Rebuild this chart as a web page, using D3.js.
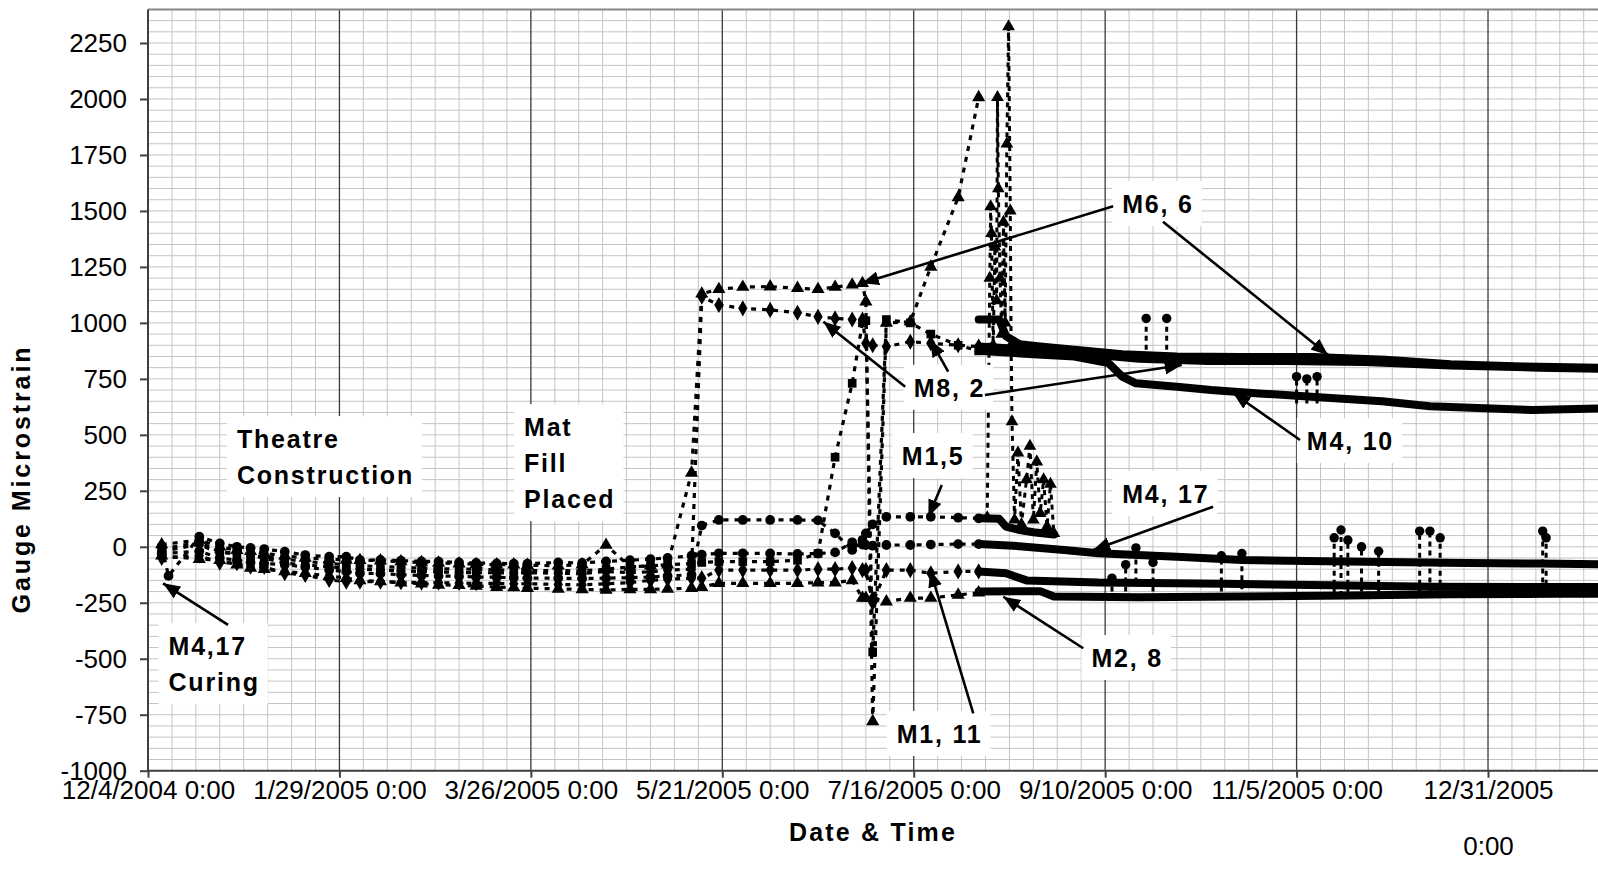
<!DOCTYPE html>
<html>
<head>
<meta charset="utf-8">
<script src="https://cdn.jsdelivr.net/npm/d3@7"></script>
<style>
  body { margin: 0; background: #fff; }
  svg { display: block; font-family: "Liberation Sans", Arial, sans-serif; }
  .axis .tick text { font-size: 26px; fill: #000; }
  .axis path, .axis line { stroke: #404040; stroke-width: 2; }
  .note text, .title { font-size: 25px; font-weight: bold; letter-spacing: 1.8px; fill: #000; }
</style>
</head>
<body>
<div id="chart"></div>
<script>
// manual gauge readings (before the data logger was connected)
const manualDates = ["2004-12-08","2004-12-10","2004-12-19","2004-12-25","2004-12-30","2005-01-03","2005-01-07","2005-01-13","2005-01-19","2005-01-26","2005-01-31","2005-02-04","2005-02-10","2005-02-16","2005-02-22","2005-02-27","2005-03-05","2005-03-10","2005-03-16","2005-03-21","2005-03-25","2005-04-03","2005-04-10","2005-04-17","2005-04-24","2005-04-30","2005-05-05","2005-05-12","2005-05-15","2005-05-20","2005-05-27","2005-06-04","2005-06-12","2005-06-18","2005-06-23","2005-06-28","2005-07-01","2005-07-02","2005-07-04","2005-07-08","2005-07-15","2005-07-21","2005-07-29","2005-08-04"];

const m66Manual  = [10,null,30,0,-15,-20,-30,-40,-50,-55,-59,-60,-62,-66,-70,-72,-75,-78,-80,-80,-82,-85,-80,8,-90,-85,-80,330,1130,1150,1160,1162,1155,1150,1160,1170,1177,1095,-780,1000,1005,1250,1560,2007];
const m82Manual  = [-20,null,10,-28,-28,-40,-50,-73,-81,-90,-95,-100,-104,-108,-110,-112,-115,-116,-116,-118,-116,-118,-120,-110,-115,-112,-104,-100,1117,1080,1065,1058,1045,1027,1020,1015,1015,909,900,894,916,909,900,894];
const m410Manual = [-10,null,20,-20,-30,-40,-45,-55,-65,-75,-80,-85,-88,-92,-95,-98,-100,-100,-104,-105,-106,-106,-108,-100,-90,-85,-80,-75,-70,-66,-66,-66,-60,-30,400,730,1000,1010,-470,1015,1000,950,900,875];
const m15Manual  = [-30,null,-20,-50,-60,-70,-75,-80,-90,-104,-111,-118,-120,-125,-128,-130,-132,-135,-136,-138,-140,-140,-142,-140,-138,-135,-130,-125,95,120,120,120,120,118,60,-14,30,60,100,134,134,134,130,127];
const m417Manual = [0,-130,45,15,0,-5,-10,-22,-37,-44,-44,-59,-59,-62,-65,-66,-70,-72,-74,-75,-75,-70,-72,-65,-60,-55,-50,-40,-35,-29,-29,-30,-32,-30,-25,20,10,8,5,8,8,10,12,12];
const m111Manual = [-50,null,-40,-71,-73,-89,-90,-118,-126,-148,-156,-156,-156,-158,-160,-160,-162,-163,-163,-165,-165,-168,-170,-165,-160,-150,-145,-140,-140,-104,-104,-104,-104,-100,-100,-95,-104,-104,-250,-104,-104,-118,-110,-110];
const m28Manual  = [-40,null,-55,-60,-80,-95,-100,-110,-118,-130,-140,-150,-155,-160,-165,-170,-172,-175,-180,-182,-185,-188,-190,-193,-190,-190,-188,-185,-180,-163,-163,-163,-163,-160,-160,-150,-229,-229,-229,-245,-229,-229,-215,-205];

// data logger readings (dense, drawn as a solid band)
const m66Logger  = [["2005-08-04",1015],["2005-08-10",1015],["2005-08-12",940],["2005-08-16",905],["2005-08-22",895],["2005-09-01",880],["2005-09-15",860],["2005-10-01",850],["2005-10-20",848],["2005-11-10",848],["2005-12-01",835],["2005-12-20",815],["2006-01-10",805],["2006-02-02",800]];
const m82Logger  = [["2005-08-04",894],["2005-08-15",885],["2005-09-01",865],["2005-09-20",840],["2005-10-10",830],["2005-11-01",830],["2005-11-25",825],["2005-12-20",810],["2006-01-15",800],["2006-02-02",795]];
const m410Logger = [["2005-08-04",875],["2005-08-20",860],["2005-09-01",850],["2005-09-11",820],["2005-09-15",760],["2005-09-19",730],["2005-10-01",715],["2005-10-11",700],["2005-10-25",685],["2005-11-15",665],["2005-11-30",650],["2005-12-14",628],["2006-01-01",618],["2006-01-13",611],["2006-02-02",618]];
const m15Logger  = [["2005-08-04",127],["2005-08-10",125],["2005-08-12",90],["2005-08-16",75],["2005-08-20",65],["2005-08-26",55]];
const m417Logger = [["2005-08-04",12],["2005-08-14",5],["2005-08-29",-14],["2005-09-08",-29],["2005-10-01",-44],["2005-10-20",-59],["2005-11-08",-64],["2005-12-01",-68],["2005-12-25",-72],["2006-01-15",-75],["2006-02-02",-78]];
const m111Logger = [["2005-08-04",-110],["2005-08-12",-118],["2005-08-18",-150],["2005-09-08",-160],["2005-10-15",-165],["2005-11-15",-172],["2005-12-15",-178],["2006-01-15",-180],["2006-02-02",-180]];
const m28Logger  = [["2005-08-04",-200],["2005-08-22",-198],["2005-08-26",-222],["2005-09-20",-225],["2005-10-20",-222],["2005-11-20",-218],["2005-12-20",-212],["2006-01-20",-210],["2006-02-02",-210]];

// erratic readings in August
const spikeReadings = [["2005-08-06 12:00",130],["2005-08-07 06:00",1200],["2005-08-07 12:00",1519],["2005-08-07 18:00",1400],["2005-08-08 06:00",900],["2005-08-08 18:00",1340],["2005-08-09 06:00",1100],["2005-08-09 12:00",2007],["2005-08-09 18:00",1600],["2005-08-10 06:00",1200],["2005-08-10 18:00",950],["2005-08-11 06:00",1450],["2005-08-11 18:00",1000],["2005-08-12 06:00",1800],["2005-08-12 18:00",2323],["2005-08-13 06:00",1500],["2005-08-13 12:00",900],["2005-08-13 18:00",559],["2005-08-14 12:00",120],["2005-08-15 12:00",420],["2005-08-16 12:00",100],["2005-08-18 00:00",300],["2005-08-19 00:00",450],["2005-08-20 00:00",120],["2005-08-21 00:00",380],["2005-08-22 00:00",150],["2005-08-23 00:00",300],["2005-08-24 00:00",90],["2005-08-25 00:00",280],["2005-08-26 00:00",60]];

// short excursions off the logger bands: [date, from, to]
const bumps = [["2005-09-22",840,1020],["2005-09-28",840,1020],["2005-11-05",640,760],["2005-11-08",640,750],["2005-11-11",640,760],["2005-09-12",-200,-140],["2005-09-16",-200,-80],["2005-09-19",-160,-5],["2005-09-24",-200,-70],["2005-10-14",-200,-40],["2005-10-20",-190,-30],["2005-11-16",-210,40],["2005-11-18",-220,75],["2005-11-20",-210,30],["2005-11-24",-200,0],["2005-11-29",-210,-20],["2005-12-11",-210,70],["2005-12-14",-200,70],["2005-12-17",-210,40],["2006-01-16",-200,70],["2006-01-17",-210,40]];

const yTicks = [-1000,-750,-500,-250,0,250,500,750,1000,1250,1500,1750,2000,2250];
const xTickDates = ["2004-12-04","2005-01-29","2005-03-26","2005-05-21","2005-07-16","2005-09-10","2005-11-05","2005-12-31"];
const xTickLabels = ["12/4/2004 0:00","1/29/2005 0:00","3/26/2005 0:00","5/21/2005 0:00","7/16/2005 0:00","9/10/2005 0:00","11/5/2005 0:00","12/31/2005 0:00"];

const notes = [
  {lines: ["Theatre","Construction"], at: ["2004-12-30",441]},
  {lines: ["Mat","Fill","Placed"], at: ["2005-03-24",494]},
  {lines: ["M4,17","Curing"], at: ["2004-12-10",-484]},
  {lines: ["M6, 6"], at: ["2005-09-15",1491]},
  {lines: ["M8, 2"], at: ["2005-07-16",670]},
  {lines: ["M1,5"], at: ["2005-07-12 12:00",365]},
  {lines: ["M1, 11"], at: ["2005-07-11",-876]},
  {lines: ["M2, 8"], at: ["2005-09-06",-537]},
  {lines: ["M4, 17"], at: ["2005-09-15",196]},
  {lines: ["M4, 10"], at: ["2005-11-08",432]}
];
const arrows = [
  [["2004-12-27 10:00",-349],["2004-12-08 10:00",-163]],
  [["2005-09-12 08:00",1521],["2005-06-30 20:00",1177]],
  [["2005-09-26 22:00",1452],["2005-11-14 05:00",857]],
  [["2005-07-13 12:00",715],["2005-06-19 14:00",1005]],
  [["2005-07-26 02:00",782],["2005-07-20 20:00",924]],
  [["2005-08-05 20:00",678],["2005-10-02 10:00",812]],
  [["2005-07-24 05:00",276],["2005-07-20 07:00",134]],
  [["2005-08-02 10:00",-744],["2005-07-20 20:00",-104]],
  [["2005-09-03 14:00",-453],["2005-08-11 05:00",-223]],
  [["2005-10-11 14:00",179],["2005-09-06 12:00",-14]],
  [["2005-11-06 00:00",477],["2005-10-17 12:00",686]]
];

const parseDay = d3.utcParse("%Y-%m-%d");
const parseTime = d3.utcParse("%Y-%m-%d %H:%M");
const toDate = s => parseDay(s) || parseTime(s);

const gauges = [
  {manual: m66Manual,  logger: m66Logger,  symbol: d3.symbolTriangle},
  {manual: m82Manual,  logger: m82Logger,  symbol: d3.symbolDiamond},
  {manual: m410Manual, logger: m410Logger, symbol: d3.symbolSquare},
  {manual: m15Manual,  logger: m15Logger,  symbol: d3.symbolCircle},
  {manual: m417Manual, logger: m417Logger, symbol: d3.symbolCircle},
  {manual: m111Manual, logger: m111Logger, symbol: d3.symbolDiamond},
  {manual: m28Manual,  logger: m28Logger,  symbol: d3.symbolTriangle}
];

const width = 1598, height = 874;
const left = 148, bottom = 770.7, pxPerDay = 3.4184, pxPerUnit = 0.223908;
const start = toDate("2004-12-04"), end = toDate("2006-02-02");
const nDays = d3.utcDay.count(start, end);

const x = d3.scaleUtc().domain([start, end]).range([left, left + nDays * pxPerDay]);
const y = d3.scaleLinear().domain([-1000, 2400]).range([bottom, bottom - 3400 * pxPerUnit]);
const plotTop = y(2400), plotRight = x(end);

const svg = d3.select("#chart").append("svg")
    .attr("width", width)
    .attr("height", height);

svg.append("defs").append("marker")
    .attr("id", "head")
    .attr("markerUnits", "userSpaceOnUse")
    .attr("markerWidth", 18).attr("markerHeight", 14)
    .attr("refX", 17).attr("refY", 7)
    .attr("orient", "auto")
  .append("path")
    .attr("d", "M0,0 L17,7 L0,14 Z")
    .attr("fill", "#000");

// grid
const grid = svg.append("g");
grid.selectAll(".hminor")
  .data(d3.range(-1000, 2401, 50))
  .enter().append("line")
    .attr("x1", left).attr("x2", plotRight)
    .attr("y1", d => y(d)).attr("y2", d => y(d))
    .attr("stroke", "#c4c4c4").attr("stroke-width", 1);
grid.selectAll(".vminor")
  .data(d3.range(0, nDays + 1, 7).filter(d => d % 56 !== 0))
  .enter().append("line")
    .attr("x1", d => x(d3.utcDay.offset(start, d))).attr("x2", d => x(d3.utcDay.offset(start, d)))
    .attr("y1", plotTop).attr("y2", bottom)
    .attr("stroke", "#c4c4c4").attr("stroke-width", 1);
grid.selectAll(".vmajor")
  .data(xTickDates.slice(1))
  .enter().append("line")
    .attr("x1", d => x(toDate(d))).attr("x2", d => x(toDate(d)))
    .attr("y1", plotTop).attr("y2", bottom)
    .attr("stroke", "#3a3a3a").attr("stroke-width", 1.3);
grid.append("line")
    .attr("x1", left).attr("x2", plotRight)
    .attr("y1", plotTop).attr("y2", plotTop)
    .attr("stroke", "#888").attr("stroke-width", 2);

// data
const plotArea = svg.append("g");
const line = d3.line().x(d => x(d[0])).y(d => y(d[1]));

gauges.forEach(g => {
    const pts = manualDates.map((d, i) => [toDate(d), g.manual[i]]).filter(p => p[1] !== null);
    plotArea.append("path")
        .attr("d", line(pts))
        .attr("fill", "none")
        .attr("stroke", "#000")
        .attr("stroke-width", 3.2)
        .attr("stroke-dasharray", "5,6");
    plotArea.append("path")
        .attr("d", line(g.logger.map(p => [toDate(p[0]), p[1]])))
        .attr("fill", "none")
        .attr("stroke", "#000")
        .attr("stroke-width", 8)
        .attr("stroke-linejoin", "round")
        .attr("stroke-linecap", "round");
    plotArea.selectAll(null)
      .data(pts)
      .enter().append("path")
        .attr("transform", d => `translate(${x(d[0])},${y(d[1])})`)
        .attr("d", d3.symbol().type(g.symbol).size(75))
        .attr("fill", "#000");
});

const spikePts = spikeReadings.map(p => [toDate(p[0]), p[1]]);
plotArea.append("path")
    .attr("d", line(spikePts))
    .attr("fill", "none")
    .attr("stroke", "#000")
    .attr("stroke-width", 3)
    .attr("stroke-dasharray", "5,5");
plotArea.selectAll(null)
  .data(spikePts)
  .enter().append("path")
    .attr("transform", d => `translate(${x(d[0])},${y(d[1])})`)
    .attr("d", d3.symbol().type(d3.symbolTriangle).size(70))
    .attr("fill", "#000");

const bumpGroups = plotArea.selectAll(null)
  .data(bumps)
  .enter().append("g");
bumpGroups.append("line")
    .attr("x1", d => x(toDate(d[0]))).attr("x2", d => x(toDate(d[0])))
    .attr("y1", d => y(d[1])).attr("y2", d => y(d[2]))
    .attr("stroke", "#000").attr("stroke-width", 3)
    .attr("stroke-dasharray", "5,4");
bumpGroups.append("path")
    .attr("transform", d => `translate(${x(toDate(d[0]))},${y(d[2])})`)
    .attr("d", d3.symbol().type(d3.symbolCircle).size(70))
    .attr("fill", "#000");

// axes
const yAxis = svg.append("g")
    .attr("class", "axis")
    .attr("transform", `translate(${left},0)`)
    .call(d3.axisLeft(y).tickValues(yTicks).tickFormat(d => String(d))
        .tickSize(8).tickSizeOuter(0).tickPadding(13));
yAxis.select(".domain").attr("d", `M0,${plotTop}V${bottom}`);

const xAxis = svg.append("g")
    .attr("class", "axis")
    .attr("transform", `translate(0,${bottom})`)
    .call(d3.axisBottom(x)
        .tickValues(xTickDates.map(toDate))
        .tickFormat((d, i) => xTickLabels[i])
        .tickSize(7).tickSizeOuter(0).tickPadding(3));
xAxis.select(".domain").attr("d", `M${left},0H${plotRight}`);

// labels that run past the chart edge wrap onto a second line
xAxis.selectAll(".tick text").each(function (d, i) {
    const t = d3.select(this);
    if (x(d) + this.getComputedTextLength() / 2 > width - 100) {
        const parts = xTickLabels[i].split(" ");
        t.text(null);
        parts.forEach((p, k) => t.append("tspan").attr("x", 0).attr("dy", k ? "2.15em" : "0.71em").text(p));
        t.attr("dy", null);
    }
});

svg.append("text")
    .attr("class", "title")
    .attr("transform", "translate(30,479) rotate(-90)")
    .attr("text-anchor", "middle")
    .style("letter-spacing", "2.9px")
    .text("Gauge Microstrain");

svg.append("text")
    .attr("class", "title")
    .attr("x", 873)
    .attr("y", 841)
    .attr("text-anchor", "middle")
    .style("letter-spacing", "2.2px")
    .text("Date & Time");

// annotations
const noteGroups = svg.selectAll(".note")
  .data(notes)
  .enter().append("g")
    .attr("class", "note");
noteGroups.each(function (n) {
    const g = d3.select(this);
    const tx = x(toDate(n.at[0])), ty = y(n.at[1]);
    const txt = g.append("text");
    n.lines.forEach((l, k) => txt.append("tspan").attr("x", tx).attr("y", ty + k * 36).text(l));
    const b = txt.node().getBBox();
    g.insert("rect", "text")
        .attr("x", b.x - 10).attr("y", b.y - 9)
        .attr("width", b.width + 18).attr("height", b.height + 17)
        .attr("fill", "#fff");
});

svg.append("g").selectAll("line")
  .data(arrows)
  .enter().append("line")
    .attr("x1", d => x(toDate(d[0][0]))).attr("y1", d => y(d[0][1]))
    .attr("x2", d => x(toDate(d[1][0]))).attr("y2", d => y(d[1][1]))
    .attr("stroke", "#000")
    .attr("stroke-width", 2.6)
    .attr("marker-end", "url(#head)");
</script>
</body>
</html>
